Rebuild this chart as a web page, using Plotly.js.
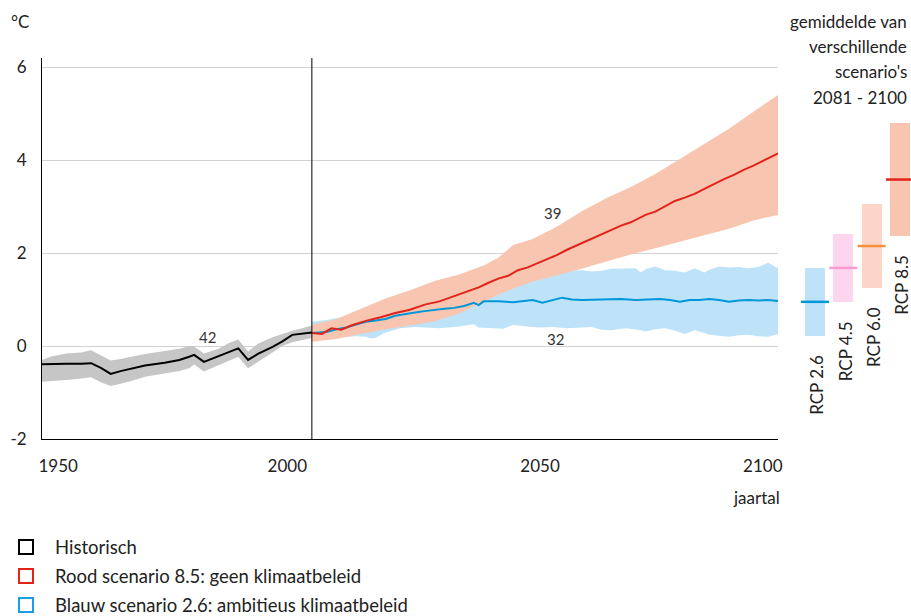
<!DOCTYPE html>
<html>
<head>
<meta charset="utf-8">
<script src="https://cdn.plot.ly/plotly-3.0.1.min.js"></script>
<style>html,body{margin:0;padding:0;background:#fff;}#chart{width:911px;height:616px;}</style>
</head>
<body>
<div id="chart"></div>
<script>
// ---------- DATA ----------
const histYears = [1950,1952,1955,1958,1960,1962,1964,1966,1968,1971,1975,1978,1980,1981,1983,1986,1988,1990,1992,1994,1997,1999,2001,2003,2005];
const histMean  = [-0.39,-0.38,-0.38,-0.38,-0.37,-0.47,-0.60,-0.54,-0.49,-0.42,-0.36,-0.30,-0.23,-0.19,-0.34,-0.21,-0.12,-0.05,-0.30,-0.17,-0.02,0.10,0.24,0.26,0.29];
const histHigh  = [-0.30,-0.22,-0.16,-0.14,-0.09,-0.20,-0.31,-0.28,-0.24,-0.17,-0.11,-0.06,0.00,-0.01,-0.16,-0.06,0.06,0.14,-0.12,0.05,0.19,0.26,0.33,0.38,0.44];
const histLow   = [-0.77,-0.76,-0.73,-0.70,-0.67,-0.78,-0.86,-0.81,-0.76,-0.66,-0.59,-0.54,-0.48,-0.40,-0.55,-0.42,-0.33,-0.23,-0.48,-0.34,-0.14,0.00,0.08,0.13,0.17];

const rcp85Years = [2005,2007,2009,2011,2013,2016,2019,2022,2025,2028,2031,2034,2037,2039,2041,2043,2045,2047,2049,2051,2053,2055,2057,2060,2063,2066,2068,2070,2073,2075,2077,2079,2081,2083,2085,2087,2089,2091,2093,2095,2097,2100];
const rcp85Mean  = [0.28,0.26,0.38,0.35,0.44,0.54,0.62,0.71,0.78,0.89,0.96,1.07,1.18,1.26,1.36,1.45,1.51,1.63,1.69,1.78,1.87,1.96,2.07,2.21,2.35,2.50,2.59,2.66,2.82,2.89,3.00,3.12,3.19,3.27,3.38,3.49,3.59,3.68,3.79,3.88,3.98,4.14];
const rcp85BandYears = [2005,2010,2015,2020,2025,2030,2035,2040,2043,2046,2050,2055,2060,2065,2070,2075,2080,2085,2090,2095,2100];
const rcp85High = [0.45,0.58,0.80,1.02,1.20,1.40,1.54,1.73,1.90,2.17,2.30,2.57,2.90,3.18,3.42,3.70,4.02,4.34,4.67,5.04,5.40];
const rcp85Low  = [0.09,0.15,0.26,0.36,0.44,0.53,0.70,0.95,1.10,1.23,1.38,1.52,1.66,1.82,1.97,2.10,2.24,2.38,2.52,2.70,2.82];

const rcp26Years = [2005,2008,2010,2012,2014,2016,2018,2020,2022,2024,2026,2028,2030,2032,2034,2036,2038,2039,2040,2043,2046,2048,2050,2052,2054,2056,2058,2060,2064,2068,2071,2074,2076,2078,2080,2082,2084,2086,2088,2090,2092,2094,2096,2098,2100];
const rcp26Mean  = [0.28,0.30,0.36,0.40,0.46,0.52,0.55,0.58,0.65,0.69,0.72,0.75,0.78,0.80,0.82,0.86,0.93,0.88,0.96,0.96,0.94,0.96,0.99,0.93,0.98,1.04,1.00,0.99,1.00,1.01,0.99,1.00,1.01,0.99,0.95,0.99,0.99,1.01,0.99,0.95,0.98,0.99,0.98,0.99,0.97];
const rcp26BandYears = [2005,2008,2011,2014,2016,2017,2018,2020,2023,2026,2029,2031,2035,2037,2038,2039,2042,2044,2046,2048,2051,2054,2057,2060,2062,2064,2066,2069,2071,2072,2073,2075,2077,2079,2081,2083,2085,2086,2088,2090,2092,2094,2096,2098,2100];
const rcp26Low  = [0.13,0.15,0.19,0.21,0.20,0.16,0.18,0.29,0.38,0.41,0.39,0.38,0.42,0.45,0.47,0.40,0.39,0.37,0.45,0.43,0.40,0.41,0.38,0.40,0.41,0.35,0.34,0.38,0.36,0.34,0.31,0.36,0.38,0.33,0.26,0.34,0.28,0.24,0.22,0.20,0.23,0.24,0.21,0.20,0.26];
const rcp26High = [0.52,0.56,0.62,0.70,0.78,0.82,0.86,0.92,1.02,1.12,1.22,1.27,1.38,1.42,1.45,1.47,1.52,1.54,1.56,1.58,1.60,1.61,1.62,1.63,1.60,1.62,1.66,1.66,1.67,1.58,1.65,1.71,1.63,1.62,1.58,1.67,1.58,1.64,1.71,1.69,1.70,1.67,1.70,1.79,1.67];

const scenarios    = ['RCP 2.6','RCP 4.5','RCP 6.0','RCP 8.5'];
const scenarioMean = [0.95,1.68,2.15,3.58];
const scenarioLow  = [0.22,0.95,1.24,2.37];
const scenarioHigh = [1.68,2.41,3.05,4.80];

const splitYear = 2005;
const xTickLabels = ['1950','2000','2050','2100'];
const yTickVals = [-2,0,2,4,6];
const numberLabels = ['42','39','32'];
const legendLabels = ['Historisch','Rood scenario 8.5: geen klimaatbeleid','Blauw scenario 2.6: ambitieus klimaatbeleid'];
const panelTitle = ['gemiddelde van','verschillende','scenario\'s','2081 - 2100'];

// ---------- STYLE ----------
const FONT = 'Lato, "Open Sans", sans-serif';
const TXT = '#222222';
const C = {
  grayBand:'#c6c6c6', black:'#000000',
  redBand:'#f8c6b0', red:'#e2231a',
  blueBand:'#bee3f8', blue:'#0096da',
  pinkBand:'#fcd6ee', pink:'#f59bd0',
  peachBand:'#fdd5c8', orange:'#f7903e'
};
const boxColors  = [C.blueBand, C.pinkBand, C.peachBand, C.redBand];
const lineColors = [C.blue, C.pink, C.orange, C.red];
const legendColors = [C.black, C.red, '#1a9fe0'];

// pixel helpers for layout placement (plot area: l=42, t=58, w=869, h=381)
const PL = 42, PT = 58, PW = 869, PH = 381;
const px = x => (x - PL) / PW;
const py = y => (PT + PH - y) / PH;

const band = (xs, lo, hi, color) => ([
  {x: xs, y: lo, type:'scatter', mode:'lines', line:{width:0, color:color}, hoverinfo:'skip', showlegend:false},
  {x: xs, y: hi, type:'scatter', mode:'lines', line:{width:0, color:color}, fill:'tonexty', fillcolor:color, hoverinfo:'skip', showlegend:false}
]);

const traces = [
  ...band(histYears, histLow, histHigh, C.grayBand),
  ...band(rcp26BandYears, rcp26Low, rcp26High, C.blueBand),
  ...band(rcp85BandYears, rcp85Low, rcp85High, C.redBand),
  {x: rcp26Years, y: rcp26Mean, type:'scatter', mode:'lines', line:{color:C.blue, width:2}, hoverinfo:'skip', showlegend:false},
  {x: rcp85Years, y: rcp85Mean, type:'scatter', mode:'lines', line:{color:C.red, width:2}, hoverinfo:'skip', showlegend:false},
  {x: histYears, y: histMean, type:'scatter', mode:'lines', line:{color:C.black, width:2}, hoverinfo:'skip', showlegend:false},
  {x: scenarios, y: scenarioHigh.map((h,i)=>h-scenarioLow[i]), base: scenarioLow, type:'bar',
   width: 0.706, marker:{color: boxColors, line:{width:0}}, xaxis:'x2', yaxis:'y2', hoverinfo:'skip', showlegend:false},
  {x: scenarios, y: scenarioMean, type:'scatter', mode:'markers', xaxis:'x2', yaxis:'y2',
   marker:{symbol:'line-ew', size:20, line:{width:2.5, color: lineColors}}, hoverinfo:'skip', showlegend:false}
];

const annotations = [];
// unit
annotations.push({text:'°C', xref:'paper', yref:'paper', x:px(20), y:py(22), xanchor:'center', yanchor:'middle', showarrow:false, font:{family:FONT, size:17, color:TXT}});
// x-axis title
annotations.push({text:'jaartal', xref:'paper', yref:'paper', x:px(782), y:py(497), xanchor:'right', yanchor:'middle', showarrow:false, font:{family:FONT, size:17, color:TXT}});
// number labels
const numPos = [[1983.8,0.19],[2054.1,2.86],[2054.7,0.15]];
numberLabels.forEach((t,i)=>annotations.push({text:t, x:numPos[i][0], y:numPos[i][1], xref:'x', yref:'y', showarrow:false, xanchor:'center', yanchor:'middle', font:{family:FONT, size:15, color:'#333333'}}));
// right panel title
panelTitle.forEach((t,i)=>annotations.push({text:t, xref:'paper', yref:'paper', x:px(909), y:py(22+25*i), xanchor:'right', yanchor:'middle', showarrow:false, font:{family:FONT, size:17, color:TXT}}));
// scenario labels (rotated)
scenarios.forEach((s,i)=>annotations.push({text:s, x:s, y:scenarioLow[i], xref:'x2', yref:'y2', textangle:-90, xanchor:'center', yanchor:'top', yshift:-17, xshift:2, showarrow:false, font:{family:FONT, size:17, color:TXT}}));
// legend
const shapes = [
  {type:'line', xref:'x', yref:'y domain', x0:splitYear, x1:splitYear, y0:0, y1:1, line:{color:'#000', width:1}}
];
legendLabels.forEach((t,i)=>{
  const cy = 547 + 29*i;
  shapes.push({type:'rect', xref:'paper', yref:'paper', x0:px(19), x1:px(33), y0:py(cy+7), y1:py(cy-7), line:{color:legendColors[i], width:2}, fillcolor:'rgba(0,0,0,0)'});
  annotations.push({text:t, xref:'paper', yref:'paper', x:px(53), y:py(cy), xanchor:'left', yanchor:'middle', showarrow:false, font:{family:FONT, size:18.5, color:TXT}});
});

const layout = {
  width:911, height:616,
  margin:{l:PL, r:0, t:PT, b:616-PT-PH, pad:0},
  paper_bgcolor:'#fff', plot_bgcolor:'rgba(0,0,0,0)',
  showlegend:false,
  font:{family:FONT, size:17, color:TXT},
  bargap:0,
  xaxis:{domain:[0, 736/PW], range:[1950,2100], showgrid:false, zeroline:false,
         showline:true, linecolor:'#000', linewidth:1, ticks:'',
         tickmode:'array', tickvals:[1953.3,2000,2051.5,2096.9], ticktext:xTickLabels,
         ticklabelstandoff:12, tickfont:{family:FONT, size:17, color:TXT}, fixedrange:true},
  yaxis:{range:[-2, 6.194], tickmode:'array', tickvals:yTickVals, ticktext:yTickVals.map(String),
         showgrid:true, gridcolor:'#d2d2d2', gridwidth:1, zeroline:false,
         showline:true, linecolor:'#000', linewidth:1, ticks:'', ticklabelstandoff:11,
         tickfont:{family:FONT, size:17, color:TXT}, fixedrange:true},
  xaxis2:{domain:[(800-PL)/PW, 1], anchor:'y2', type:'category', range:[-0.5295, 3.389], visible:false, fixedrange:true},
  yaxis2:{domain:[0,1], anchor:'x2', range:[-2, 6.194], visible:false, fixedrange:true},
  annotations: annotations,
  shapes: shapes
};

Plotly.newPlot('chart', traces, layout, {staticPlot:true, displayModeBar:false});
</script>
</body>
</html>
